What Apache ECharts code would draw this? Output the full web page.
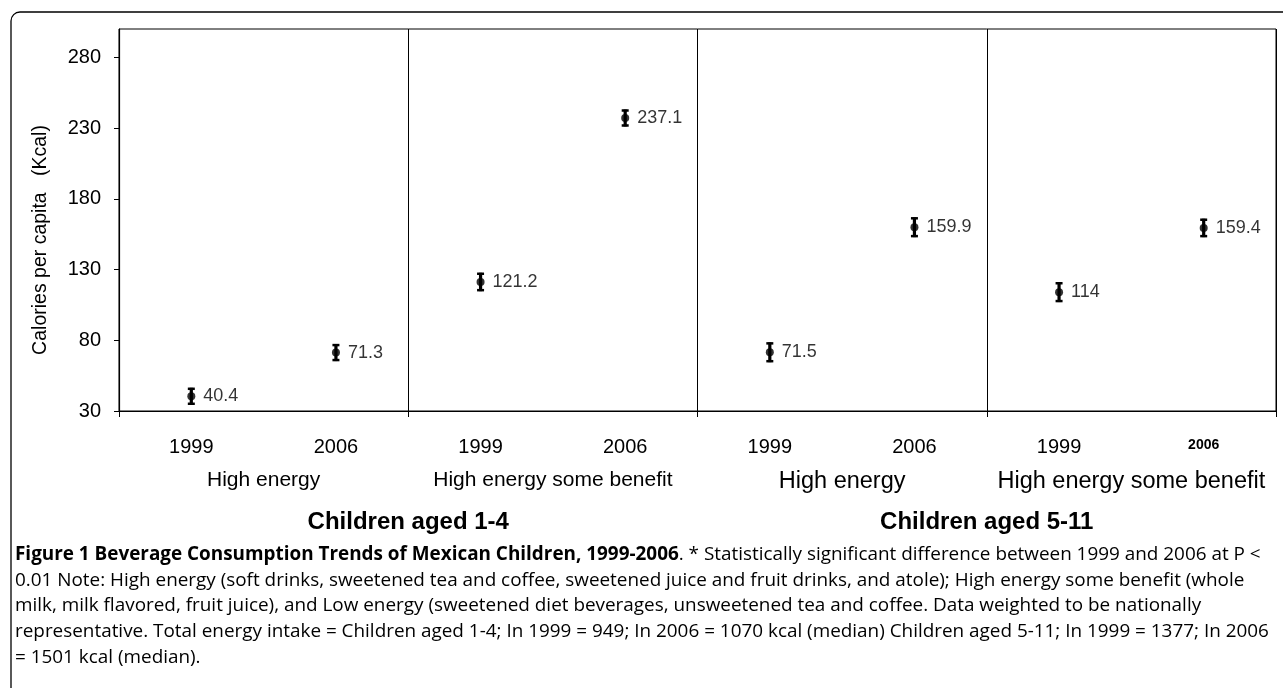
<!DOCTYPE html>
<html>
<head>
<meta charset="utf-8">
<script src="https://cdn.jsdelivr.net/npm/echarts@6/dist/echarts.min.js"></script>
<style>
html,body{margin:0;padding:0;background:#fff;}
#c{width:1283px;height:688px;}
</style>
</head>
<body>
<div id="c"></div>
<script>
// ---- data ----
const years = ['1999', '2006', '1999', '2006', '1999', '2006', '1999', '2006'];
const groupLabels = ['High energy', 'High energy some benefit', 'High energy', 'High energy some benefit'];
const ageLabels = ['Children aged 1-4', 'Children aged 5-11'];
const values = [40.4, 71.3, 121.2, 237.1, 71.5, 159.9, 114, 159.4];
const errors = [6, 6, 6.5, 6, 7, 7, 7, 6.5];
const yTicks = [30, 80, 130, 180, 230, 280];
const yName = 'Calories per capita   (Kcal)';

const captionBold = 'Figure 1 Beverage Consumption Trends of Mexican Children, 1999-2006';
const captionLines = [
  '. * Statistically significant difference between 1999 and 2006 at P <',
  '0.01 Note: High energy (soft drinks, sweetened tea and coffee, sweetened juice and fruit drinks, and atole); High energy some benefit (whole',
  'milk, milk flavored, fruit juice), and Low energy (sweetened diet beverages, unsweetened tea and coffee. Data weighted to be nationally',
  'representative. Total energy intake = Children aged 1-4; In 1999 = 949; In 2006 = 1070 kcal (median) Children aged 5-11; In 1999 = 1377; In 2006',
  '= 1501 kcal (median).'
];

const FONT = "'Liberation Sans', Arial, sans-serif";
const CAPFONT = "'Open Sans', sans-serif";
const chart = echarts.init(document.getElementById('c'));

const captionText = '{b|' + captionBold + '}{n|' + captionLines[0] + '}\n' +
  captionLines.slice(1).map(l => '{n|' + l + '}').join('\n');

const option = {
  backgroundColor: '#fff',
  animation: false,
  grid: {
    left: 119, right: 7, top: 29, bottom: 277,
    show: true, borderColor: '#000', borderWidth: 1, backgroundColor: 'transparent'
  },
  xAxis: [
    {
      type: 'category', data: years, position: 'bottom',
      axisLine: { show: false }, axisTick: { show: false }, splitLine: { show: false },
      axisLabel: {
        interval: 0, margin: 46, verticalAlign: 'bottom', color: '#000', fontFamily: FONT,
        formatter: (v, i) => i === 7 ? '{b|' + v + '}' : '{a|' + v + '}',
        rich: {
          a: { fontSize: 20, lineHeight: 20, fontFamily: FONT, color: '#000' },
          b: { fontSize: 14, lineHeight: 14, fontWeight: 'bold', fontFamily: FONT, color: '#000', padding: [0, 0, 10, 0] }
        }
      }
    },
    {
      type: 'category', data: groupLabels, position: 'bottom',
      axisLine: { show: true, lineStyle: { color: '#000', width: 1.2 } },
      axisTick: { show: true, interval: 0, length: 6, lineStyle: { color: '#000' } },
      splitLine: { show: true, interval: 0, lineStyle: { color: '#000', width: 1 } },
      axisLabel: {
        interval: 0, margin: 59, color: '#000', fontFamily: FONT,
        formatter: (v, i) => i >= 2 ? '{c|' + v + '}' : '{a|' + v + '}',
        rich: {
          a: { fontSize: 21, lineHeight: 21, fontFamily: FONT, color: '#000' },
          c: { fontSize: 23.5, lineHeight: 23, fontFamily: FONT, color: '#000' }
        }
      }
    },
    {
      type: 'category', data: ageLabels, position: 'bottom',
      axisLine: { show: false }, axisTick: { show: false }, splitLine: { show: false },
      axisLabel: {
        interval: 0, margin: 99, color: '#000', fontFamily: FONT,
        fontSize: 24, lineHeight: 24, fontWeight: 'bold'
      }
    }
  ],
  yAxis: {
    type: 'value', min: 30, max: 300,
    name: yName, nameLocation: 'middle', nameRotate: 90, nameGap: 68,
    nameTextStyle: { fontSize: 19.5, fontFamily: FONT, color: '#000', padding: [0, 40, 0, 0] },
    axisLine: { show: true, lineStyle: { color: '#000', width: 1.2 } },
    axisTick: { show: true, length: 5, customValues: yTicks, lineStyle: { color: '#000' } },
    axisLabel: { customValues: yTicks, fontSize: 20, fontFamily: FONT, color: '#000', margin: 18 },
    splitLine: { show: false }
  },
  series: [
    {
      type: 'custom', xAxisIndex: 0, yAxisIndex: 0,
      data: values.map((v, i) => [i, v, errors[i]]),
      encode: { x: 0, y: 1 },
      renderItem: function (params, api) {
        const x = api.value(0), v = api.value(1), e = api.value(2);
        const top = api.coord([x, v + e]);
        const bot = api.coord([x, v - e]);
        const hw = 3.5;
        const st = { stroke: '#000', lineWidth: 3.2 };
        return {
          type: 'group',
          children: [
            { type: 'line', shape: { x1: top[0], y1: top[1], x2: bot[0], y2: bot[1] }, style: st },
            { type: 'line', shape: { x1: top[0] - hw, y1: top[1] + 1, x2: top[0] + hw, y2: top[1] + 1 }, style: { stroke: '#000', lineWidth: 2.5 } },
            { type: 'line', shape: { x1: bot[0] - hw, y1: bot[1] - 1, x2: bot[0] + hw, y2: bot[1] - 1 }, style: { stroke: '#000', lineWidth: 2.5 } }
          ]
        };
      },
      z: 3
    },
    {
      type: 'scatter', xAxisIndex: 0, yAxisIndex: 0,
      data: values,
      symbol: 'circle', symbolSize: 8,
      itemStyle: { color: '#000' },
      label: {
        show: true, position: 'right', distance: 8,
        fontSize: 18, fontFamily: FONT, color: '#000',
        formatter: p => String(p.value)
      },
      z: 4
    }
  ],
  graphic: [
    {
      type: 'rect', silent: true,
      shape: { x: 11, y: 12, width: 1320, height: 720, r: 9 },
      style: { fill: null, stroke: '#000', lineWidth: 1.3 }
    },
    {
      type: 'text', silent: true, left: 15, top: 545,
      style: {
        text: captionText,
        rich: {
          b: { fontFamily: CAPFONT, fontSize: 18.9, fontWeight: 'bold', color: '#000', lineHeight: 25.7 },
          n: { fontFamily: CAPFONT, fontSize: 18.9, color: '#000', lineHeight: 25.7 }
        }
      }
    }
  ]
};
chart.setOption(option);
</script>
</body>
</html>
